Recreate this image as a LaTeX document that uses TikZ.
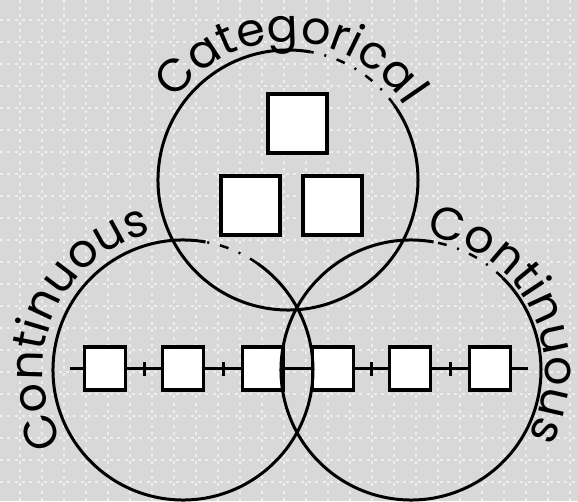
\documentclass[tikz,border=0pt]{standalone}
\usepackage{fontspec}
\newfontfamily\handfont{Poppins}
\usetikzlibrary{calc,decorations.text}
\definecolor{paper}{RGB}{216,216,216}
\definecolor{griddot}{RGB}{238,238,238}
\newcommand\labfont{\handfont\fontsize{46}{46}\selectfont}

\begin{document}
\begin{tikzpicture}[x=1pt, y=1pt,
  gridline/.style={griddot, line width=1.8pt, dash pattern=on 3pt off 4.33pt},
  ring/.style={line width=3pt},
  ringgap/.style={line width=2.5pt, dash pattern=on 9pt off 11pt on 2pt off 11pt},
  catbox/.style={draw, fill=white, line width=4pt, inner sep=0pt, minimum width=59, minimum height=59},
  cell/.style={draw, fill=white, line width=3.5pt, inner sep=0pt, minimum width=41, minimum height=43},
  link/.style={line width=2.5pt},
  label/.style={decorate, decoration={text along path, text align=center, text={|\labfont|#1}}}]
  % paper and dotted grid
  \fill[paper] (0,0) rectangle (578,501);
  \useasboundingbox (0,0) rectangle (578,501);
  \foreach \gx in {20,42,...,570} \draw[gridline] (\gx,0) -- (\gx,501);
  \foreach \gy in {19,41,...,481} \draw[gridline] (0,\gy) -- (578,\gy);

  % categorical boxes
  \node[catbox] (cattop) at (297,377) {};
  \node[catbox] (catleft) at (250,295.5) {};
  \node[catbox] (catright) at (332,295.5) {};

  % continuous row
  \foreach \i/\x in {1/105, 2/183, 3/263, 4/333, 5/410, 6/490}
    \node[cell] (c\i) at (\x,132.5) {};
  \coordinate (lend) at (70,132.5);
  \coordinate (rend) at (528,132.5);
  \draw[link] (lend) -- (c1);
  \draw[link] (c6) -- (rend);
  \foreach \a/\b in {1/2, 2/3, 3/4, 4/5, 5/6} \draw[link] (c\a) -- (c\b);
  \foreach \a/\b in {1/2, 2/3, 4/5, 5/6}
    \draw[line width=3pt] ($(c\a)!0.5!(c\b)+(0,-7)$) -- ++(0,14);

  % circles
  \draw[ring] (288,321) ++(80:130) arc[start angle=80, end angle=395, radius=130];
  \draw[ringgap] (288,321) ++(35:130) arc[start angle=35, end angle=80, radius=130];
  \draw[ring] (183,131) ++(80:130) arc[start angle=80, end angle=415, radius=130];
  \draw[ringgap] (183,131) ++(55:130) arc[start angle=55, end angle=80, radius=130];
  \draw[ring] (411,131) ++(80:130) arc[start angle=80, end angle=405, radius=130];
  \draw[ringgap] (411,131) ++(45:130) arc[start angle=45, end angle=80, radius=130];

  % labels
  \path[label=Categorical] (288,321) ++(160:138) arc[start angle=160, end angle=17, radius=138];
  \path[label=Continuous] (183,131) ++(230:140) arc[start angle=230, end angle=84, radius=140];
  \path[label=Continuous] (411,131) ++(104:134) arc[start angle=104, end angle=-50, radius=134];
\end{tikzpicture}
\end{document}
